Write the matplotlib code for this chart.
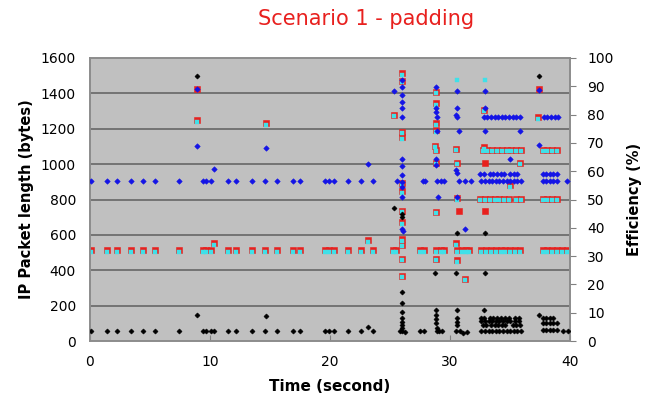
import numpy as np
import matplotlib
matplotlib.use("Agg")
import matplotlib.pyplot as plt
from matplotlib import transforms

# ---------------- data ----------------
# shared sparse time stamps (seconds) before the burst region
sparse_t = [0.1, 1.4, 2.3, 3.4, 4.4, 5.4, 7.4, 9.4, 9.7, 10.1, 11.5, 12.2, 13.5,
            14.6, 15.6, 16.9, 17.5, 19.6, 19.9, 20.3, 21.5, 22.6, 23.6]

# black series: IP packet length (bytes), individual points
black_t = [0.1, 1.4, 2.3, 3.4, 4.4, 5.4, 7.4, 8.9, 8.9, 9.4, 9.7, 10.1, 10.3, 11.5,
           12.2, 13.5, 14.6, 14.7, 15.6, 16.9, 17.5, 19.6, 19.9, 20.3, 21.5, 22.6,
           23.2, 23.6,
           25.3, 25.8, 26.0, 26.0, 26.0, 26.0, 26.0, 26.0, 26.0, 26.0, 26.0, 26.0, 26.2,
           27.5, 27.8,
           28.7, 28.8, 28.8, 28.8, 28.8, 28.9, 28.9, 29.1, 29.3,
           30.6, 30.5, 30.6, 30.6, 30.6, 30.6, 30.5, 30.8, 31.1, 31.4,
           32.9, 32.9, 32.8,
           37.4, 37.4, 39.4, 39.8]
black_v = [60, 60, 60, 60, 60, 60, 60, 1500, 150, 60, 60, 60, 60, 60,
           60, 60, 60, 140, 60, 60, 60, 60, 60, 60, 60, 60,
           80, 60,
           750, 60, 720, 700, 280, 215, 165, 130, 110, 90, 75, 55, 50,
           60, 60,
           385, 175, 150, 125, 100, 75, 60, 60, 60,
           610, 385, 175, 130, 110, 90, 60, 55, 45, 50,
           610, 385, 175,
           1500, 150, 60, 60]
# black rows of near-identical packets (level in bytes -> times)
black_rows = {
    130: [32.6, 32.8, 33.3, 33.6, 33.9, 34.2, 34.6, 34.9, 35.4, 35.7],
    112: [32.6, 32.9, 33.2, 33.5, 33.8, 34.1, 34.4, 34.7, 35.0, 35.4, 35.7],
    90:  [32.7, 33.0, 33.4, 33.7, 34.0, 34.3, 34.6, 35.2, 35.5, 35.8],
    60:  [32.6, 32.9, 33.2, 33.5, 33.8, 34.1, 34.4, 34.7, 35.0, 35.3, 35.6, 35.9],
    128: [37.7, 38.0, 38.3, 38.6],
    100: [37.7, 38.0, 38.3, 38.6, 38.9],
    62:  [37.7, 38.0, 38.3, 38.6, 38.9],
}

# blue series: IP packet length (bytes)
blue_t = sparse_t + [8.9, 8.9, 10.3, 14.7, 23.2, 25.3, 25.6,
                     26.0, 26.0, 26.0, 26.0, 26.0, 26.0, 26.0, 26.0, 26.0, 26.0, 26.0,
                     26.0, 26.0, 26.1,
                     27.7, 27.9,
                     28.8, 28.8, 28.8, 28.9, 28.9, 28.8, 28.8, 28.9, 29.0, 29.2, 29.5,
                     30.6, 30.6, 30.5, 30.6, 30.7, 30.5, 30.6, 30.7, 30.6,
                     31.2, 31.7, 31.2,
                     32.9, 32.9, 32.8, 32.9, 35.8, 35.0,
                     37.4, 37.4]
blue_v = [905, 905, 905, 905, 905, 905, 905, 905, 905, 905, 905, 905, 905,
          905, 905, 905, 905, 905, 905, 905, 905, 905, 905] + \
         [1425, 1100, 970, 1090, 1000, 1410, 905,
          1475, 1435, 1390, 1350, 1315, 1265, 1030, 990, 940, 900, 870,
          815, 635, 620,
          905, 905,
          1435, 1315, 1295, 1265, 1185, 1030, 995, 905, 815, 905, 905,
          1410, 1315, 1280, 1265, 1185, 965, 950, 905, 815,
          905, 905, 635,
          1410, 1315, 1265, 1185, 1185, 1030,
          1420, 1108]
blue_rows = {
    1265: [33.1, 33.4, 33.7, 34.0, 34.3, 34.6, 34.9, 35.2, 35.5, 35.8],
    944:  [32.5, 32.8, 33.3, 33.6, 33.9, 34.2, 34.5, 35.0, 35.3, 35.6],
    905:  [32.6, 32.9, 33.2, 33.5, 33.8, 34.1, 34.4, 34.7, 35.0, 35.3, 35.6, 35.9],
    1266: [37.8, 38.1, 38.4, 38.7, 39.0],
    945:  [37.7, 38.0, 38.3, 38.6, 38.9],
    904:  [37.7, 38.0, 38.3, 38.6, 38.9, 39.7],
}

# red series: efficiency (%)
red_t = sparse_t + [8.9, 8.9, 10.3, 14.7, 23.2, 25.3, 25.2, 25.5,
                    26.0, 26.0, 26.0, 26.0, 26.0, 26.0, 26.0, 26.0, 26.0, 26.0, 26.0, 26.0,
                    27.5, 27.8,
                    28.8, 28.8, 28.8, 28.8, 28.7, 28.8, 28.8, 28.8, 28.8, 28.8, 29.2, 29.5,
                    30.5, 30.6, 30.6, 30.7, 30.5, 30.6, 30.6, 31.2, 31.0, 31.3, 31.6,
                    32.8, 32.8, 32.9, 32.9, 35.0, 35.8,
                    37.4, 37.3]
red_v = [32, 32, 32, 32, 32, 32, 32, 32, 32, 32, 32, 32, 32,
         32, 32, 32, 32, 32, 32, 32, 32, 32, 32] + \
        [89, 78, 34.6, 77, 35.7, 80, 32, 32,
         94.5, 92, 74, 72, 56, 53, 46, 42, 36, 34, 29, 23,
         32, 32,
         88, 84, 77, 74.5, 69, 67.5, 63, 45.6, 32, 29, 32, 32,
         68, 63, 50.5, 46, 34.6, 32, 28.6, 22, 32, 32, 32,
         81.6, 68.5, 63, 46, 55, 63,
         89, 79]
red_rows = {
    67.5: [32.7, 33.1, 33.5, 33.9, 34.3, 34.7, 35.1, 35.5, 35.9,
           37.7, 38.1, 38.5, 38.9],
    50.2: [32.5, 32.9, 33.3, 33.7, 34.1, 34.5, 34.9, 35.5, 35.9,
           37.7, 38.1, 38.5, 38.9],
    32:   [32.6, 33.0, 33.4, 33.8, 34.2, 34.6, 35.0, 35.4, 35.8,
           37.7, 38.1, 38.5, 38.9, 39.3, 39.7],
}

# cyan series: efficiency (%), mostly coincides with red
cyan_t = sparse_t + [8.9, 10.3, 14.7, 23.2, 25.3, 25.2, 25.5,
                     26.0, 26.0, 26.0, 26.0, 26.0, 26.0, 26.0, 26.0, 26.0, 26.0, 26.0, 26.0,
                     27.5, 27.8,
                     28.8, 28.8, 28.8, 28.8, 28.7, 28.8, 28.8, 28.8, 28.8, 28.8, 29.2, 29.5,
                     30.5, 30.6, 30.6, 30.5, 30.6, 30.6, 31.2, 31.0, 31.3, 31.6, 30.6,
                     32.8, 32.8, 32.9, 35.0, 35.8,
                     37.3]
cyan_v = [32, 32, 32, 32, 32, 32, 32, 32, 32, 32, 32, 32, 32,
          32, 32, 32, 32, 32, 32, 32, 32, 32, 32] + \
         [78, 34.6, 77, 35.7, 80, 32, 32,
          94.5, 92, 74, 72, 56, 53, 46, 42, 36, 34, 29, 23,
          32, 32,
          88, 84, 77, 74.5, 69, 67.5, 63, 45.6, 32, 29, 32, 32,
          68, 63, 50.5, 34.6, 32, 28.6, 22, 32, 32, 32, 92.6,
          81.6, 68.5, 92.6, 55, 63,
          79]
cyan_rows = red_rows

x_ticks = [0, 10, 20, 30, 40]
y_ticks = [0, 200, 400, 600, 800, 1000, 1200, 1400, 1600]
eff_ticks = [0, 10, 20, 30, 40, 50, 60, 70, 80, 90, 100]


def expand(points_t, points_v, rows):
    t = list(points_t)
    v = list(points_v)
    for level, times in rows.items():
        t += list(times)
        v += [level] * len(times)
    return np.array(t), np.array(v)


bt, bv = expand(black_t, black_v, black_rows)
ut, uv = expand(blue_t, blue_v, blue_rows)
rt, rv = expand(red_t, red_v, red_rows)
ct, cv = expand(cyan_t, cyan_v, cyan_rows)

# ---------------- figure ----------------
fig = plt.figure(figsize=(6.51, 3.99), dpi=100)
ax2 = fig.add_axes([0.138, 0.145, 0.738, 0.71])
ax = ax2.twinx()
ax.set_zorder(ax2.get_zorder() + 1)
ax.patch.set_visible(False)

ax2.set_facecolor("#c0c0c0")
ax2.set_xlim(0, 40)
ax2.set_ylim(0, 100)
ax.set_ylim(0, 1600)

# gridlines (every 200 bytes = 12.5 %)
for g in [200, 400, 600, 800, 1000, 1200, 1400]:
    ax2.axhline(g / 16.0, color="#6e6e6e", lw=1.3, zorder=0.5)

# red + cyan on efficiency axis
ax2.plot(rt, rv, ls="none", marker="s", ms=4.3, mfc="#e8201e", mec="#e8201e",
         mew=0.4, zorder=2)
cyan_tr = transforms.offset_copy(ax2.transData, fig=fig, x=0, y=-1.5, units="dots")
ax2.plot(ct, cv, ls="none", marker="s", ms=3.0, mfc="#40e0e8", mec="#40e0e8",
         mew=0.3, transform=cyan_tr, zorder=3)

# blue + black on packet length axis
ax.plot(ut, uv, ls="none", marker="D", ms=2.8, mfc="#1414e6", mec="#1414e6",
        mew=0.4, zorder=4)
ax.plot(bt, bv, ls="none", marker="D", ms=2.6, mfc="#000000", mec="#000000",
        mew=0.4, zorder=5)

ax.yaxis.tick_left()
ax.yaxis.set_label_position("left")
ax2.yaxis.tick_right()
ax2.yaxis.set_label_position("right")

ax.set_yticks(y_ticks)
ax.set_yticklabels([str(v) for v in y_ticks])
ax2.set_yticks(eff_ticks)
ax2.set_yticklabels([str(v) for v in eff_ticks])
ax2.set_xticks(x_ticks)
ax2.set_xticklabels([str(v) for v in x_ticks])

ax.tick_params(axis="y", direction="in", length=0, labelsize=10, pad=10, colors="black")
ax2.tick_params(axis="y", direction="out", length=4, labelsize=10, pad=8,
                color="#808080", labelcolor="black")
ax2.tick_params(axis="x", direction="in", length=4, labelsize=10, pad=10,
                color="#808080", labelcolor="black")
ax.tick_params(axis="x", bottom=False, labelbottom=False)

for a in (ax, ax2):
    for s in a.spines.values():
        s.set_color("#8c8c8c")
        s.set_linewidth(1.2)

ax.set_ylabel("IP Packet length (bytes)", fontsize=10.5, fontweight="bold", labelpad=5)
ax2.set_ylabel("Efficiency (%)", fontsize=10.5, fontweight="bold", labelpad=10,
               rotation=90)
ax2.set_xlabel("Time (second)", fontsize=11, fontweight="bold", labelpad=7)

fig.text(0.562, 0.952, "Scenario 1 - padding", color="#e8201e", fontsize=15,
         ha="center", va="center")

fig.savefig("out.png", dpi=100)
